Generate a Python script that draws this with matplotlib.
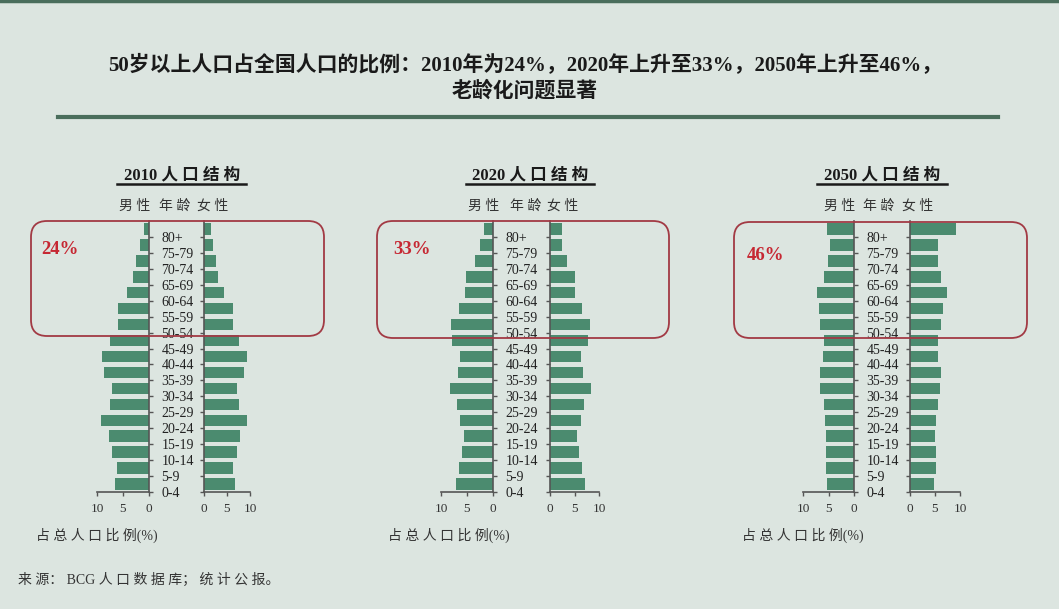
import matplotlib
matplotlib.use('Agg')
import matplotlib.pyplot as plt
from matplotlib.patches import FancyBboxPatch
from matplotlib.lines import Line2D

# Data
# ------------------------------------------------------------------------

ages = ['0-4', '5-9', '10-14', '15-19', '20-24', '25-29', '30-34', '35-39', '40-44',
        '45-49', '50-54', '55-59', '60-64', '65-69', '70-74', '75-79', '80+']

male_2010 = [6.5, 6.1, 7.1, 7.7, 9.3, 7.5, 7.1, 8.6, 9.1, 7.5, 5.9, 5.9, 4.2, 3.0, 2.5, 1.7, 0.9]
female_2010 = [6.7, 6.4, 7.2, 7.9, 9.3, 7.7, 7.2, 8.8, 9.3, 7.7, 6.2, 6.2, 4.4, 3.1, 2.6, 2.0, 1.6]

male_2020 = [7.1, 6.5, 5.9, 5.6, 6.4, 7.0, 8.2, 6.8, 6.4, 7.8, 8.1, 6.6, 5.3, 5.1, 3.5, 2.5, 1.7]
female_2020 = [7.1, 6.5, 6.0, 5.6, 6.4, 7.0, 8.3, 6.8, 6.4, 7.7, 8.1, 6.6, 5.1, 5.1, 3.4, 2.4, 2.4]

male_2050 = [5.2, 5.5, 5.5, 5.5, 5.6, 5.9, 6.6, 6.6, 6.1, 5.9, 6.6, 6.8, 7.3, 5.9, 5.1, 4.8, 5.3]
female_2050 = [4.8, 5.2, 5.2, 5.0, 5.2, 5.5, 6.0, 6.1, 5.6, 5.5, 6.2, 6.5, 7.4, 6.1, 5.5, 5.5, 9.1]

years = ['2010', '2020', '2050']
shares = ['24%', '33%', '46%']
males = [male_2010, male_2020, male_2050]
females = [female_2010, female_2020, female_2050]

title_1 = '50岁以上人口占全国人口的比例：2010年为24%，2020年上升至33%，2050年上升至46%，'
title_2 = '老龄化问题显著'
headers = ['男 性', '年 龄', '女 性']
x_note = '占 总 人 口 比 例(%)'
source = '来 源： BCG 人 口 数 据 库； 统 计 公 报。'

# Style
# ------------------------------------------------------------------------

W, H = 1059, 609
BG = '#dce5e0'
BAR = '#4b8b6f'
DARK_GREEN = '#4a6e5c'
BOX_RED = '#a23a44'
TEXT_RED = '#c62833'
AXIS = '#555555'
FONT = ['Liberation Serif', 'Noto Sans CJK SC']


def fx(x):
    return x / W


def fy(y):
    return 1 - y / H


# pixel layout of each panel
panels = [
    dict(male=(97, 149), female=(204, 250), center=182, ul=(117, 246),
         box=(31, 221, 324, 336), pct=(41, 250), col=(135, 175, 213), note=36),
    dict(male=(441, 493), female=(550, 599), center=530, ul=(466, 594),
         box=(377, 221, 669, 338), pct=(393, 250), col=(484, 526, 563), note=388),
    dict(male=(803, 854), female=(910, 960), center=882, ul=(817, 947),
         box=(734, 222, 1027, 338), pct=(747, 256), col=(840, 879, 918), note=742),
]
ax_top, ax_bottom = 221, 492

plt.rcParams['font.family'] = FONT

fig = plt.figure(figsize=(W / 100, H / 100), dpi=100, facecolor=BG)

# top border and title
fig.add_artist(Line2D([0, 1], [fy(1), fy(1)], color=DARK_GREEN, lw=2.5))
fig.text(fx(525), fy(66), title_1, ha='center', va='center', fontsize=15,
         fontweight='bold', color='#1a1a1a')
fig.text(fx(525), fy(91), title_2, ha='center', va='center', fontsize=15,
         fontweight='bold', color='#1a1a1a')
fig.add_artist(Line2D([fx(58), fx(998)], [fy(117), fy(117)], color=DARK_GREEN, lw=3))

pos = list(range(len(ages)))
tick_pos = [p - 0.5 for p in pos]

for i, p in enumerate(panels):
    bottom = fy(ax_bottom)
    height = fy(ax_top) - fy(ax_bottom)

    ax_m = fig.add_axes([fx(p['male'][0]), bottom, fx(p['male'][1] - p['male'][0]), height])
    ax_f = fig.add_axes([fx(p['female'][0]), bottom, fx(p['female'][1] - p['female'][0]), height])

    ax_m.barh(pos, males[i], height=0.72, color=BAR)
    ax_f.barh(pos, females[i], height=0.72, color=BAR)

    ax_m.set_xlim(10, 0)
    ax_f.set_xlim(0, 10)

    for ax in (ax_m, ax_f):
        ax.set_facecolor('none')
        ax.set_ylim(-0.5, len(ages) - 0.5)
        ax.spines['top'].set_visible(False)
        ax.set_xticks([0, 5, 10])
        ax.set_xticklabels(['0', '5', '10'])
        ax.tick_params(axis='x', length=3, width=1, colors=AXIS, labelcolor='#333333',
                       labelsize=9.5, pad=5)
        for s in ax.spines.values():
            s.set_color(AXIS)
            s.set_linewidth(1.2)
        ax.set_yticks(tick_pos)

    ax_m.spines['left'].set_visible(False)
    ax_m.yaxis.tick_right()
    ax_m.set_yticklabels(ages)
    ax_m.tick_params(axis='y', length=3, width=1, colors=AXIS, labelcolor='#222222',
                     labelsize=10, pad=6)

    ax_f.spines['right'].set_visible(False)
    ax_f.set_yticklabels([])
    ax_f.tick_params(axis='y', length=3, width=1, colors=AXIS)

    # panel title with underline
    fig.text(fx(p['center']), fy(175), f'{years[i]} 人 口 结 构', ha='center', va='center',
             fontsize=12, fontweight='bold', color='#1a1a1a')
    fig.add_artist(Line2D([fx(p['ul'][0]), fx(p['ul'][1])], [fy(184), fy(184)],
                          color='#1a1a1a', lw=1.8))

    # column headers
    for x, t in zip(p['col'], headers):
        fig.text(fx(x), fy(206), t, ha='center', va='center', fontsize=10, color='#333333')

    # highlight box for the 50+ groups, drawn in inches so the corners stay round
    x0, y0, x1, y1 = p['box']
    fig.add_artist(FancyBboxPatch((x0 / 100, (H - y1) / 100), (x1 - x0) / 100, (y1 - y0) / 100,
                                  boxstyle='round,pad=0,rounding_size=0.16',
                                  transform=fig.dpi_scale_trans, fill=False,
                                  edgecolor=BOX_RED, lw=1.3))
    fig.text(fx(p['pct'][0]), fy(p['pct'][1]), shares[i], ha='left', va='center',
             fontsize=13.5, fontweight='bold', color=TEXT_RED)

    fig.text(fx(p['note']), fy(535), x_note, ha='left', va='center',
             fontsize=10, color='#333333')

fig.text(fx(18), fy(580), source, ha='left', va='center', fontsize=10, color='#333333')

fig.savefig('out.png', dpi=100, facecolor=BG)
